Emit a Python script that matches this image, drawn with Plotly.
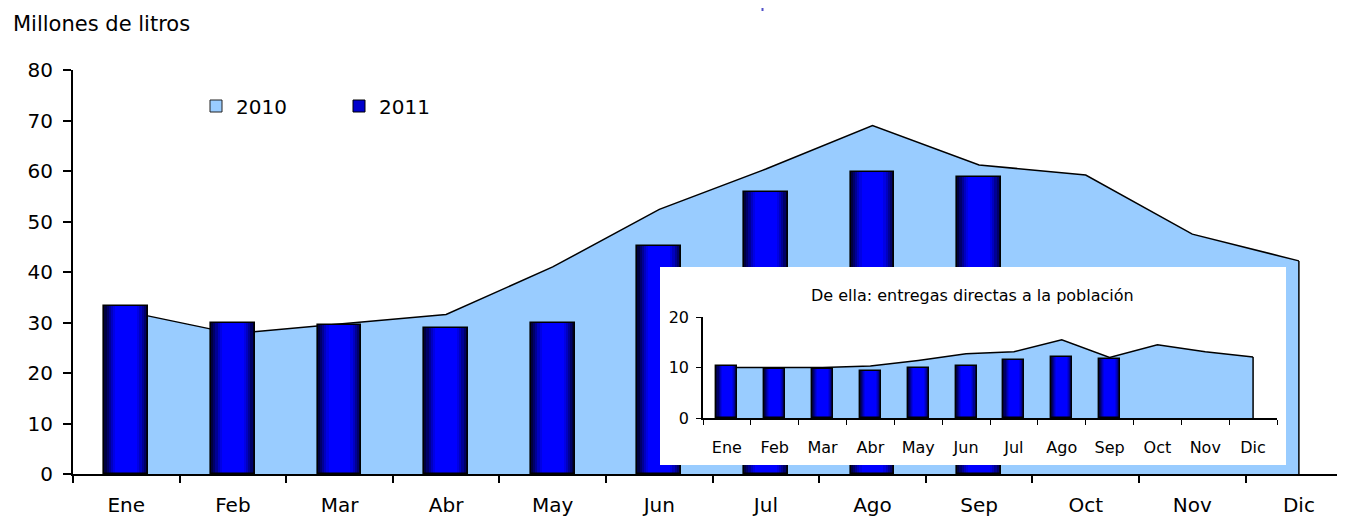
import plotly.graph_objects as go

# ---------------- data ----------------
months = ["Ene", "Feb", "Mar", "Abr", "May", "Jun", "Jul", "Ago", "Sep", "Oct", "Nov", "Dic"]
total_2010 = [32.2, 27.8, 29.7, 31.6, 41.0, 52.4, 60.4, 69.0, 61.2, 59.2, 47.5, 42.2]
total_2011 = [33.3, 29.9, 29.6, 28.9, 29.9, 45.2, 55.8, 59.9, 58.9]
direct_2010 = [10.0, 10.0, 10.0, 10.3, 11.4, 12.7, 13.1, 15.5, 12.0, 14.5, 13.1, 12.1]
direct_2011 = [10.3, 9.7, 9.7, 9.3, 10.0, 10.3, 11.4, 12.1, 11.7]
main_yticks = [0, 10, 20, 30, 40, 50, 60, 70, 80]
inset_yticks = [0, 10, 20]
series_names = ["2010", "2011"]
unit_label = "Millones de litros"
inset_title = "De ella: entregas directas a la población"

# ---------------- geometry ----------------
# the page body has an 8px margin, so the figure is offset by 8px on screen
OFF = 8
W, H = 1345 - OFF, 516 - OFF
ML, MR, MT, MB = 73 - OFF, 0, 70 - OFF, 42
PW, PH = W - ML - MR, H - MT - MB
CAT_W = 106.6


def px(x):  # screen x -> paper
    return (x - OFF - ML) / PW


def py(y):  # screen y -> paper
    return (H - MB - (y - OFF)) / PH


FONT = "DejaVu Sans"
AREA_FILL = "#99CCFF"
# gradient layers for the bars (width factor, colour), outer to inner
LAYERS = [(1.0, "#000040"), (0.9, "#000068"), (0.8, "#000094"), (0.7, "#0000c0"),
          (0.6, "#0000e4"), (0.5, "#0000ff")]

fig = go.Figure()


def add_area(values, xa, ya):
    fig.add_trace(go.Scatter(x=months, y=values, mode="lines", fill="tozeroy",
                             fillcolor=AREA_FILL, line=dict(color="black", width=1.5),
                             xaxis=xa, yaxis=ya, showlegend=False, hoverinfo="skip"))
    fig.add_trace(go.Scatter(x=[months[-1], months[-1]], y=[0, values[-1]], mode="lines",
                             line=dict(color="black", width=1.5),
                             xaxis=xa, yaxis=ya, showlegend=False, hoverinfo="skip"))


def add_bars(values, xa, ya, width, lw):
    cats = months[:len(values)]
    for f, c in LAYERS:
        fig.add_trace(go.Bar(x=cats, y=values, width=width * f,
                             marker=dict(color=c, line=dict(width=0)),
                             xaxis=xa, yaxis=ya, showlegend=False, hoverinfo="skip"))
    fig.add_trace(go.Bar(x=cats, y=values, width=width,
                         marker=dict(color="rgba(0,0,0,0)", line=dict(color="black", width=lw)),
                         xaxis=xa, yaxis=ya, showlegend=False, hoverinfo="skip"))


# main chart: area (xy) then bars (x2y2)
add_area(total_2010, "x", "y")
add_bars(total_2011, "x2", "y2", 0.41, 1.6)

# legend entries (square icons)
fig.add_trace(go.Bar(x=[None], y=[None], name=series_names[0], xaxis="x3", yaxis="y3",
                     marker=dict(color=AREA_FILL, line=dict(color="#222222", width=1))))
fig.add_trace(go.Bar(x=[None], y=[None], name=series_names[1], xaxis="x3", yaxis="y3",
                     marker=dict(color="#0000cc", line=dict(color="black", width=1))))

# inset: area (x4y4) then bars (x5y5)
add_area(direct_2010, "x4", "y4")
add_bars(direct_2011, "x5", "y5", 0.44, 1.4)

main_dom_x = [0, 1]
main_dom_y = [0, 1]
box_dom_x = [px(660), px(1286)]
box_dom_y = [py(465), py(267)]
in_dom_x = [px(703), px(1277)]
in_dom_y = [py(418), py(317)]
main_xrange = [-0.5, -0.5 + PW / CAT_W]

cat_common = dict(type="category", categoryorder="array", categoryarray=months)
hidden = dict(visible=False, showgrid=False, zeroline=False, fixedrange=True)

fig.update_layout(
    width=W, height=H,
    margin=dict(l=ML, r=MR, t=MT, b=MB, pad=0),
    paper_bgcolor="white", plot_bgcolor="rgba(0,0,0,0)",
    barmode="overlay", bargap=0,
    font=dict(family=FONT, color="black", size=20),
    showlegend=True,
    legend=dict(orientation="h", x=px(196), xanchor="left", y=py(106), yanchor="middle",
                font=dict(family=FONT, size=20, color="black"), bgcolor="rgba(0,0,0,0)",
                entrywidth=98, traceorder="normal"),
    xaxis=dict(**cat_common, domain=main_dom_x, anchor="y", range=main_xrange,
               tickson="boundaries", ticks="outside", ticklen=7, tickwidth=1.5, tickcolor="black",
               showline=True, linecolor="black", linewidth=2, showgrid=False, zeroline=False,
               tickfont=dict(family=FONT, size=20, color="black"), ticklabelstandoff=12),
    yaxis=dict(domain=main_dom_y, anchor="x", range=[0, 80], tickvals=main_yticks,
               ticks="outside", ticklen=8, tickwidth=1.5, tickcolor="black",
               showline=True, linecolor="black", linewidth=2, showgrid=False, zeroline=False,
               tickfont=dict(family=FONT, size=20, color="black"), ticklabelstandoff=6),
    xaxis2=dict(**cat_common, **hidden, domain=main_dom_x, anchor="y2", range=main_xrange),
    yaxis2=dict(**hidden, domain=main_dom_y, anchor="x2", range=[0, 80]),
    xaxis3=dict(**hidden, domain=box_dom_x, anchor="y3", range=[0, 1]),
    yaxis3=dict(**hidden, domain=box_dom_y, anchor="x3", range=[0, 1]),
    xaxis4=dict(**cat_common, domain=in_dom_x, anchor="y4", range=[-0.5, 11.5],
                tickson="boundaries", ticks="outside", ticklen=5, tickwidth=1.2, tickcolor="black",
                showline=True, linecolor="black", linewidth=1.5, showgrid=False, zeroline=False,
                tickfont=dict(family=FONT, size=16, color="black"), ticklabelstandoff=14),
    yaxis4=dict(domain=in_dom_y, anchor="x4", range=[0, 20], tickvals=inset_yticks,
                ticks="outside", ticklen=5, tickwidth=1.2, tickcolor="black",
                showline=True, linecolor="black", linewidth=1.5, showgrid=False, zeroline=False,
                tickfont=dict(family=FONT, size=16, color="black"), ticklabelstandoff=4),
    xaxis5=dict(**cat_common, **hidden, domain=in_dom_x, anchor="y5", range=[-0.5, 11.5]),
    yaxis5=dict(**hidden, domain=in_dom_y, anchor="x5", range=[0, 20]),
)

# white inset box (drawn inside the x3y3 subplot, below later subplots)
fig.add_shape(type="rect", xref="x3", yref="y3", x0=0, x1=1, y0=0, y1=1,
              fillcolor="white", line=dict(width=0), layer="below")
# small cut-off fragment at the very top
fig.add_shape(type="line", xref="paper", yref="paper", x0=px(762.5), x1=px(762.5),
              y0=py(OFF), y1=py(OFF + 3), line=dict(color="#5050c8", width=2))

fig.add_annotation(text=unit_label, xref="paper", yref="paper", x=px(11), y=py(24),
                   xanchor="left", yanchor="middle", showarrow=False,
                   font=dict(family=FONT, size=21, color="black"))
fig.add_annotation(text=inset_title, xref="paper", yref="paper", x=px(973), y=py(295),
                   xanchor="center", yanchor="middle", showarrow=False,
                   font=dict(family=FONT, size=16, color="black"))

fig.write_html("out.html")
